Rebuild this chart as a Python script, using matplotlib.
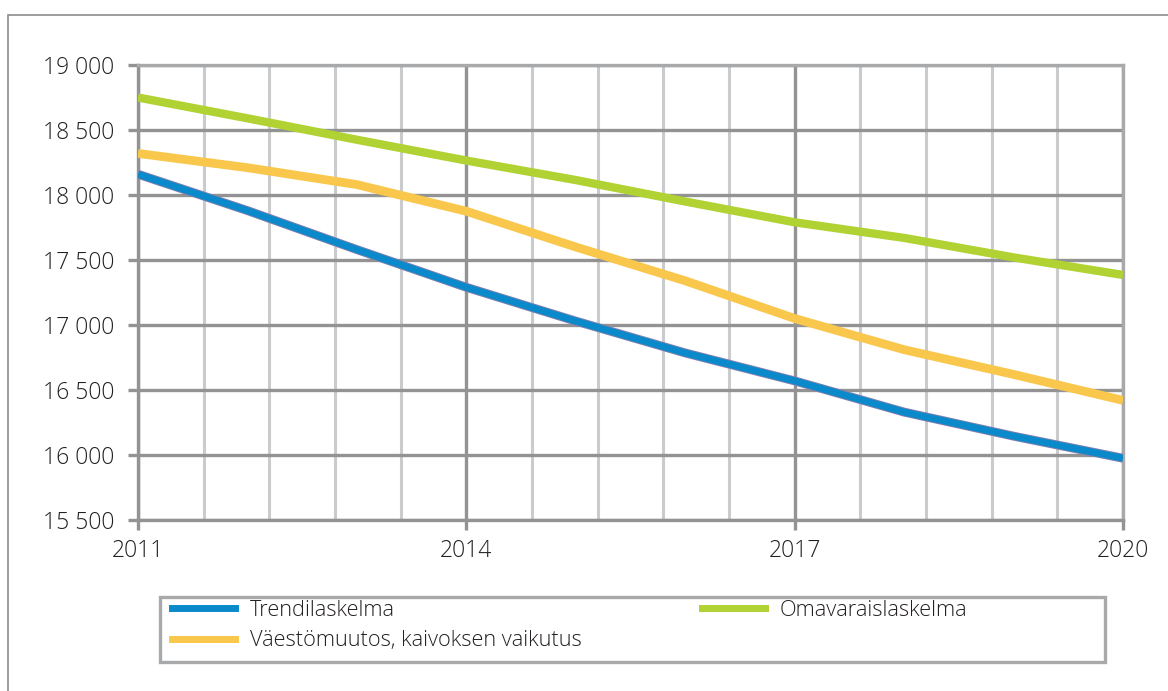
import matplotlib
matplotlib.use('Agg')
import matplotlib.pyplot as plt
import matplotlib.patheffects as pe
import numpy as np
from matplotlib.lines import Line2D
from matplotlib.patches import Rectangle
from matplotlib.ticker import FixedLocator, FuncFormatter

plt.rcParams['font.family'] = ['Open Sans', 'DejaVu Sans']
plt.rcParams['font.weight'] = 'light'

# data (population forecast 2011-2020)
years = [2011, 2012, 2013, 2014, 2015, 2016, 2017, 2018, 2019, 2020]
trendi = [18160, 17880, 17580, 17290, 17030, 16785, 16570, 16330, 16145, 15975]
vaesto = [18320, 18210, 18080, 17875, 17600, 17340, 17050, 16810, 16620, 16420]
omavarais = [18750, 18590, 18425, 18265, 18115, 17950, 17790, 17670, 17520, 17385]

labels = ['Trendilaskelma', 'Väestömuutos, kaivoksen vaikutus', 'Omavaraislaskelma']
year_ticks = [2011, 2014, 2017, 2020]
y_ticks = [15500, 16000, 16500, 17000, 17500, 18000, 18500, 19000]

BLUE = '#0a8acb'
BLUE_EDGE = '#7c7fae'
YELLOW = '#f9c74b'
GREEN = '#b0d232'
DARK = '#939393'
LIGHT = '#cacbcd'
FRAME = '#a7a9ab'
TXT = '#231f20'

W, H = 1168, 691
fig = plt.figure(figsize=(W / 100, H / 100), dpi=100)
ax = fig.add_axes([138 / W, 1 - 520 / H, (1123 - 138) / W, (520 - 65) / H])

ax.plot(years, omavarais, color=GREEN, lw=6.0, solid_capstyle='butt', zorder=3)
ax.plot(years, vaesto, color=YELLOW, lw=6.3, solid_capstyle='butt', zorder=3)
ax.plot(years, trendi, color=BLUE, lw=5.0, solid_capstyle='butt', zorder=4,
        path_effects=[pe.Stroke(linewidth=6.4, foreground=BLUE_EDGE), pe.Normal()])

ax.set_xlim(2011, 2020)
ax.set_ylim(15500, 19000)
ax.xaxis.set_major_locator(FixedLocator(year_ticks))
ax.xaxis.set_minor_locator(FixedLocator(np.linspace(2011, 2020, 16)))
ax.yaxis.set_major_locator(FixedLocator(y_ticks))
ax.yaxis.set_major_formatter(FuncFormatter(lambda v, p: f'{int(v):,}'.replace(',', ' ')))

ax.set_axisbelow(True)
ax.grid(which='minor', axis='x', color=LIGHT, lw=2.2)
ax.grid(which='major', axis='x', color=DARK, lw=2.4)
ax.grid(which='major', axis='y', color=DARK, lw=2.4)

for side in ['left', 'bottom']:
    ax.spines[side].set_color(DARK)
    ax.spines[side].set_linewidth(2.4)
for side in ['top', 'right']:
    ax.spines[side].set_color(FRAME)
    ax.spines[side].set_linewidth(2.4)

ax.tick_params(axis='y', which='major', length=7, width=2.4, color=DARK, pad=10,
               labelsize=16.5, labelcolor=TXT)
ax.tick_params(axis='x', which='major', length=7, width=2.4, color=DARK, pad=7,
               labelsize=16.5, labelcolor=TXT)
ax.tick_params(axis='x', which='minor', length=0)

# outer frame, runs off the right and bottom edge of the picture
fig.patches.append(Rectangle((8 / W, -0.2), 1.5, 1.2 - 14.5 / H, transform=fig.transFigure,
                             fill=False, edgecolor='#8c8c8c', lw=1.2))

# legend box
fig.patches.append(Rectangle((160 / W, 1 - 662 / H), (1105 - 160) / W, (662 - 597) / H,
                             transform=fig.transFigure, fill=False, edgecolor=FRAME, lw=2.4))

handles = [Line2D([], [], color=BLUE, lw=5.0),
           Line2D([], [], color=YELLOW, lw=5.0),
           Line2D([], [], color=GREEN, lw=5.0)]
fig.legend(handles, labels, ncol=2, loc='upper left', bbox_to_anchor=(172 / W, 1 - 600 / H),
           frameon=False, fontsize=15.7, handlelength=2.9, handletextpad=0.68,
           columnspacing=5.5, labelspacing=0.42, borderpad=0, borderaxespad=0,
           labelcolor=TXT)

fig.savefig('out.png', dpi=100)
